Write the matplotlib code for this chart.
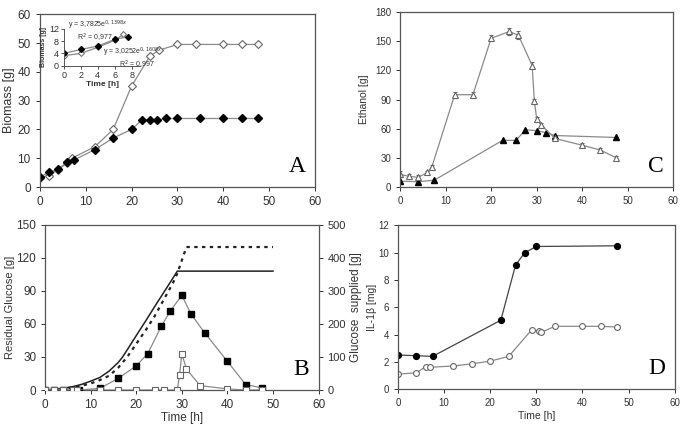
import numpy as np
import matplotlib.pyplot as plt

plt.rcParams['font.family'] = ['Liberation Sans', 'DejaVu Sans']
plt.rcParams['font.size'] = 8

# panel A - biomass
a_t_fill = [0, 2, 4, 6, 7.5, 12, 16, 20, 22.3, 24, 25.5, 27.5, 30, 35, 40, 44, 47.5]
a_fill = [3.5, 5.1, 6.3, 8.6, 9.4, 13, 17, 20, 23.3, 23.4, 23.3, 23.8, 23.8, 23.8, 23.8, 23.8, 23.8]
a_t_open = [0, 2, 4, 6, 7, 12, 16, 20, 24, 26, 30, 34, 40, 44, 47.5]
a_open = [3.3, 4.0, 6.0, 8.4, 10, 14, 20, 35, 45.5, 47.5, 49.5, 49.5, 49.5, 49.5, 49.5]
ins_t_fill = [0, 2, 4, 6, 7.5]
ins_fill = [4.0, 5.3, 6.4, 8.6, 9.4]
ins_t_open = [0, 2, 4, 6, 7]
ins_open = [3.3, 4.0, 6.0, 8.3, 10.2]

# panel C - ethanol
c_t_open = [0, 2, 4, 6, 7, 12, 16, 20, 24, 26, 29, 29.5, 30, 31, 34, 40, 44, 47.5]
c_open = [13, 11, 10, 15, 21, 95, 95, 153, 160, 156, 125, 88, 70, 64, 50, 43, 38, 30]
c_open_err = [3, 2, 2, 2, 2, 3, 3, 3, 4, 4, 4, 3, 2, 2, 2, 2, 2, 2]
c_t_fill = [0, 4, 7.5, 22.5, 25.5, 27.5, 30, 32, 34, 47.5]
c_fill = [6, 5.5, 7, 48, 48, 59, 58, 56, 53, 51]

# panel B - residual glucose and glucose supplied
b_t_fill = [0, 2, 4, 6, 7.5, 12, 16, 20, 22.5, 25.5, 27.5, 30, 32, 35, 40, 44, 47.5]
b_fill = [0, 0, 0, 0, 0, 1.5, 10.5, 22, 33, 58, 72, 86, 69, 52, 26, 5, 2]
b_t_open = [0, 2, 4, 6, 7, 12, 16, 20, 24, 26, 29, 29.5, 30, 31, 34, 40, 44, 47.5]
b_open = [0, 0, 0, 0, 0, 0, 0, 0, 0, 0, 0, 14, 33, 19, 4, 1, 0, 0]
sup_t_solid = [0, 2, 4, 6, 8, 10, 12, 14, 16, 17, 20, 22, 24, 26, 28, 29, 50]
sup_solid = [0, 2, 5, 10, 17, 27, 38, 57, 83, 100, 165, 208, 252, 295, 338, 360, 360]
sup_t_dot = [0, 2, 4, 6, 8, 10, 12, 14, 16, 18, 20, 22, 24, 26, 28, 29, 30, 31, 50]
sup_dot = [0, 2, 4, 8, 13, 20, 30, 43, 67, 100, 140, 180, 223, 273, 323, 353, 393, 433, 433]

# panel D - IL-1beta
d_t_fill = [0, 4, 7.5, 22.3, 25.5, 27.5, 30, 47.5]
d_fill = [2.5, 2.45, 2.4, 5.05, 9.1, 10.0, 10.45, 10.5]
d_t_open = [0, 4, 6, 7, 12, 16, 20, 24, 29, 30.5, 31, 34, 40, 44, 47.5]
d_open = [1.1, 1.2, 1.65, 1.6, 1.7, 1.85, 2.05, 2.4, 4.35, 4.25, 4.15, 4.6, 4.6, 4.6, 4.55]

line_c = '#8a8a8a'
txt_c = '#333333'

fig = plt.figure(figsize=(6.85, 4.3), dpi=100)
axA = fig.add_axes([0.058, 0.565, 0.402, 0.402])
axC = fig.add_axes([0.584, 0.565, 0.399, 0.407])
axB = fig.add_axes([0.066, 0.093, 0.399, 0.384])
axD = fig.add_axes([0.581, 0.095, 0.404, 0.381])

def style(ax, fs):
    for s in ax.spines.values():
        s.set_color('#555555')
        s.set_linewidth(0.9)
    ax.tick_params(colors=txt_c, labelsize=fs, length=3, width=0.7, direction='out')
    ax.set_xlim(0, 60)
    ax.set_xticks(range(0, 61, 10))

def panel_letter(ax, s):
    ax.text(0.965, 0.06, s, transform=ax.transAxes, ha='right', va='bottom',
            fontsize=17, family='Liberation Serif', color='black')

# A
style(axA, 8.5)
axA.plot(a_t_open, a_open, color=line_c, lw=0.9, marker='D', ms=4.2, mfc='white',
         mec='#666666', mew=0.8)
axA.plot(a_t_fill, a_fill, color=line_c, lw=0.9, marker='D', ms=4.2, mfc='black',
         mec='black')
axA.set_ylim(0, 60)
axA.set_yticks(range(0, 61, 10))
axA.set_ylabel('Biomass [g]', color=txt_c, fontsize=9, labelpad=2)
panel_letter(axA, 'A')

ins = fig.add_axes([0.093, 0.847, 0.112, 0.086])
ins.plot(ins_t_open, ins_open, color=line_c, lw=0.9, marker='D', ms=3, mfc='white',
         mec='#666666', mew=0.7)
ins.plot(ins_t_fill, ins_fill, color=line_c, lw=0.9, marker='D', ms=3, mfc='black',
         mec='black')
ins.set_xlim(0, 9)
ins.set_ylim(0, 12)
ins.set_xticks([0, 2, 4, 6, 8])
ins.set_yticks([0, 4, 8, 12])
ins.spines['top'].set_visible(False)
ins.spines['right'].set_visible(False)
for s in ins.spines.values():
    s.set_color('#555555')
    s.set_linewidth(0.7)
ins.patch.set_alpha(0)
ins.tick_params(colors=txt_c, labelsize=6.5, length=2, width=0.6, pad=1.5)
ins.set_xlabel('Time [h]', fontsize=6, fontweight='bold', color=txt_c, labelpad=1)
ins.set_ylabel('Biomass [g]', fontsize=5, fontweight='bold', color=txt_c, labelpad=1)
ins.text(0.5, 12.3, r'y = 3,7825e$^{0,1398x}$', fontsize=5, color=txt_c)
ins.text(1.6, 8.2, r'R$^2$ = 0,977', fontsize=5, color=txt_c)
ins.text(4.6, 3.6, r'y = 3,0252e$^{0,1608x}$', fontsize=5, color=txt_c)
ins.text(6.5, -0.6, r'R$^2$ = 0,997', fontsize=5, color=txt_c)

# C
style(axC, 7)
axC.errorbar(c_t_open, c_open, yerr=c_open_err, color=line_c, lw=0.9, marker='^', ms=4.5,
             mfc='white', mec='#666666', mew=0.8, ecolor='#666666', elinewidth=0.7,
             capsize=1.5)
axC.plot(c_t_fill, c_fill, color=line_c, lw=0.9, marker='^', ms=4.5, mfc='black', mec='black')
axC.set_ylim(0, 180)
axC.set_yticks(range(0, 181, 30))
axC.set_ylabel('Ethanol [g]', color=txt_c, fontsize=7.5, labelpad=4)
panel_letter(axC, 'C')

# B
style(axB, 8.5)
axB2 = axB.twinx()
axB2.plot(sup_t_solid, sup_solid, color='#222222', lw=1.1)
axB2.plot(sup_t_dot, sup_dot, color='#222222', lw=1.6, ls=(0, (1.5, 2)))
axB2.set_ylim(0, 500)
axB2.set_yticks(range(0, 501, 100))
for s in axB2.spines.values():
    s.set_visible(False)
axB2.tick_params(colors=txt_c, labelsize=8, length=3, width=0.7)
axB2.set_ylabel('Glucose  supplied [g]', color=txt_c, fontsize=8.5, labelpad=3)
axB.plot(b_t_fill, b_fill, color=line_c, lw=0.9, marker='s', ms=4.5, mfc='black',
         mec='black', zorder=3)
axB.plot(b_t_open, b_open, color=line_c, lw=0.9, marker='s', ms=4.5, mfc='white',
         mec='#666666', mew=0.8, zorder=4)
axB.set_zorder(axB2.get_zorder() + 1)
axB.patch.set_visible(False)
axB.set_ylim(0, 150)
axB.set_yticks(range(0, 151, 30))
axB.set_ylabel('Residual Glucose [g]', color=txt_c, fontsize=8, labelpad=1)
axB.set_xlabel('Time [h]', color=txt_c, fontsize=8.5, labelpad=1)
panel_letter(axB, 'B')

# D
style(axD, 7)
axD.errorbar(d_t_fill, d_fill, yerr=0.15, color='#444444', lw=0.9, marker='o', ms=4.2,
             mfc='black', mec='black', ecolor='black', elinewidth=0.7, capsize=1)
axD.plot(d_t_open, d_open, color=line_c, lw=0.9, marker='o', ms=4.2, mfc='white',
         mec='#666666', mew=0.8)
axD.set_ylim(0, 12)
axD.set_yticks(range(0, 13, 2))
axD.set_ylabel('IL-1β [mg]', color=txt_c, fontsize=7.5, labelpad=1)
axD.set_xlabel('Time [h]', color=txt_c, fontsize=7.5, labelpad=2)
panel_letter(axD, 'D')

fig.savefig('out.png', dpi=100)
